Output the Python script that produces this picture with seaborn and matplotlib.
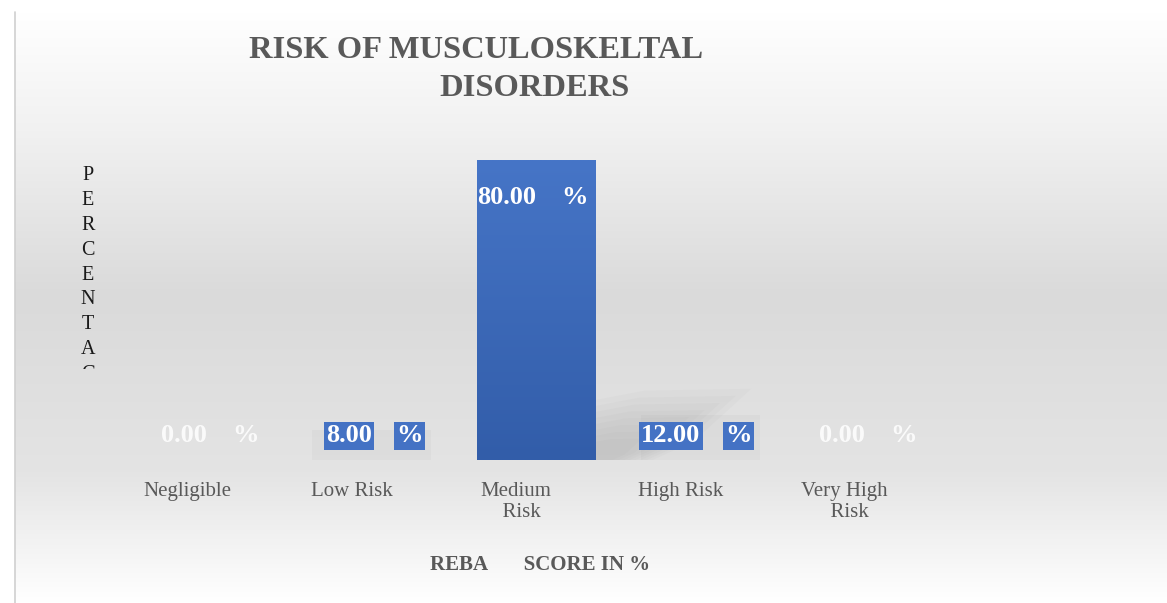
import numpy as np
import matplotlib
matplotlib.use("Agg")
import matplotlib.pyplot as plt
import seaborn as sns
from matplotlib.colors import LinearSegmentedColormap
from matplotlib.lines import Line2D
from matplotlib.transforms import Bbox, ScaledTranslation

# Data
categories = ["Negligible", "Low Risk", "Medium Risk", "High Risk", "Very High Risk"]
tick_labels = ["Negligible", "Low Risk", "Medium\n  Risk", "High Risk", "Very High\n  Risk"]
values = [0.0, 8.0, 80.0, 12.0, 0.0]

title_lines = ["RISK OF MUSCULOSKELTAL", "DISORDERS"]
x_title = "REBA       SCORE IN %"
y_title = "PERCENTAGE"

sns.set_theme(style="white")
plt.rcParams["font.family"] = ["Liberation Serif", "DejaVu Serif"]

W, H = 1167, 603
fig = plt.figure(figsize=(W / 100, H / 100), dpi=100)
fig.patch.set_facecolor("white")

# background gradient of the chart area
bg = fig.add_axes([15 / W, 0, 1 - 15 / W, 1 - 12 / H], zorder=-10)
bg_cmap = LinearSegmentedColormap.from_list(
    "bg", [(0, "#ffffff"), (0.2, "#f1f1f1"), (0.48, "#dadada"),
           (0.78, "#e4e4e4"), (1.0, "#ffffff")])
bg.imshow(np.linspace(0, 1, 256).reshape(-1, 1), aspect="auto", cmap=bg_cmap,
          extent=[0, 1, 0, 1])
bg.set_axis_off()
fig.add_artist(Line2D([15 / W, 15 / W], [0, 1 - 12 / H], color="#d0d0d0", lw=1.2,
                      transform=fig.transFigure))

# plot area
left, right, top, bottom = 125, 947, 160, 460
ax = fig.add_axes([left / W, 1 - bottom / H, (right - left) / W, (bottom - top) / H])
ax.patch.set_alpha(0)

bar_blue = "#4472c4"
palette = [bar_blue if v >= 40 else (0.45, 0.45, 0.45, 0.05) for v in values]
sns.barplot(x=categories, y=values, hue=categories, palette=palette, legend=False,
            width=0.72, saturation=1, linewidth=0, ax=ax)
ax.set_ylim(0, 80)
ax.set_xlim(-0.5, len(categories) - 0.5)

# gradient fill + soft shadow for the tall bar
bar_cmap = LinearSegmentedColormap.from_list("bar", ["#325da9", "#4675c7"])
for patch, v in zip(ax.patches, values):
    patch.set_edgecolor("none")
    if v < 40:
        continue
    x0, w, h = patch.get_x(), patch.get_width(), patch.get_height()
    im = ax.imshow(np.linspace(0, 1, 256).reshape(-1, 1), origin="lower", aspect="auto",
                   cmap=bar_cmap, extent=[x0, x0 + w, 0, h], zorder=3)
    im.set_clip_path(patch)
    xr = x0 + w
    for k in range(8):
        s = 1 - k * 0.1
        poly = plt.Polygon([(xr, 0), (xr, 16 * s), (xr + 0.3 * s, 18.5 * s),
                            (xr + 0.95 * s, 19 * s), (xr + 0.6 * s, 5 * s),
                            (xr + 0.35 * s, 0)],
                           closed=True, color="#8a8a8a", alpha=0.045, lw=0, zorder=1)
        ax.add_patch(poly)

ax.set_xticks(range(len(categories)))
ax.set_xticklabels(tick_labels, fontsize=15, color="#595959", linespacing=1.15)
ax.tick_params(axis="x", length=0, pad=16)
offset = ScaledTranslation(-20 / 100, 0, fig.dpi_scale_trans)
for lab in ax.get_xticklabels():
    lab.set_transform(lab.get_transform() + offset)
ax.set_yticks([])
ax.set_xlabel("")
ax.set_ylabel("")
for s in ax.spines.values():
    s.set_visible(False)

# data labels
for i, v in enumerate(values):
    if v >= 40:
        y, dy = v, -37 * 0.72
    else:
        y, dy = 0, 24 * 0.72
    if v == 0:
        kw = dict(color="white", alpha=0.85)
    elif v >= 40:
        kw = dict(color="white")
    else:
        kw = dict(color="white", bbox=dict(boxstyle="square,pad=0.08", fc=bar_blue, ec="none"))
    ax.annotate(f"{v:.2f}", (i, y), xytext=(0, dy), textcoords="offset points",
                ha="right", va="center", fontsize=19, fontweight="bold", zorder=5, **kw)
    ax.annotate("%", (i, y), xytext=(18, dy), textcoords="offset points",
                ha="left", va="center", fontsize=19, fontweight="bold", zorder=5, **kw)

# titles
fig.text(476 / W, 1 - 50 / H, title_lines[0], ha="center", va="center", fontsize=23.4,
         fontweight="bold", color="#595959")
fig.text(535 / W, 1 - 88 / H, title_lines[1], ha="center", va="center", fontsize=23.4,
         fontweight="bold", color="#595959")
fig.text(540 / W, 1 - 565 / H, x_title, ha="center", va="center", fontsize=15,
         fontweight="bold", color="#595959")

yt = fig.text(88 / W, 1 - 166 / H, "\n".join(y_title), ha="center", va="top",
              fontsize=14.5, color="#1a1a1a", linespacing=1.42)
yt.set_clip_box(Bbox.from_extents(40, H - 369, 140, H - 150))
yt.set_clip_on(True)

fig.savefig("out.png", dpi=100, facecolor=fig.get_facecolor())
